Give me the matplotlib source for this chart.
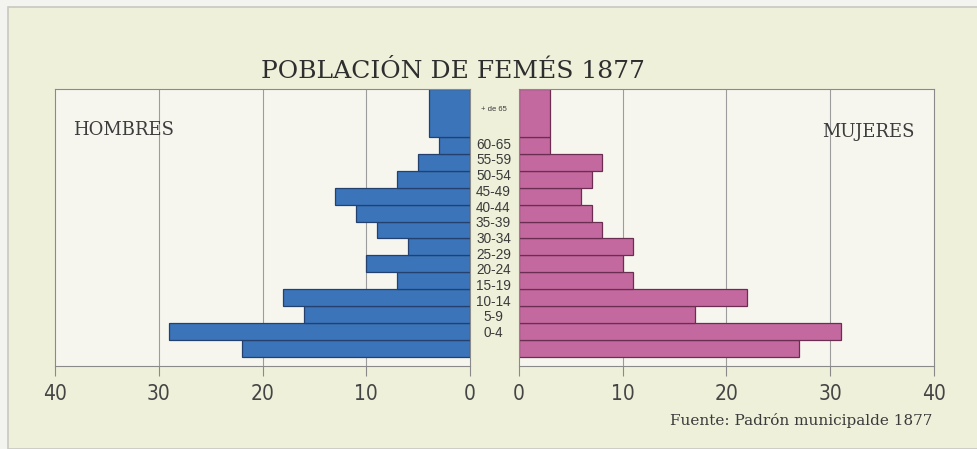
import numpy as np
import matplotlib.pyplot as plt
from matplotlib.patches import Rectangle

# Población de Femés 1877 - pirámide por grupos de edad
edades = ['0-4', '5-9', '10-14', '15-19', '20-24', '25-29', '30-34',
          '35-39', '40-44', '45-49', '50-54', '55-59', '60-65']
hombres = [22, 29, 16, 18, 7, 10, 6, 9, 11, 13, 7, 5, 3]
mujeres = [27, 31, 17, 22, 11, 10, 11, 8, 7, 6, 7, 8, 3]
mas65_label = '+ de 65'
mas65_h = 4
mas65_m = 3

ticks = [0, 10, 20, 30, 40]

fondo = '#eef0da'
interior = '#f6f6ef'
azul = '#3b74b9'
rosa = '#c4699f'

fig = plt.figure(figsize=(9.77, 4.49), dpi=100, facecolor='#f3f3ef')

# borde del escaneo
fig.patches.append(Rectangle((8 / 977, 0), 1, 1 - 7 / 449, transform=fig.transFigure,
                             facecolor=fondo, edgecolor='#c8c8c0', lw=1.2, zorder=-10))

axl = fig.add_axes([0.0563, 0.1849, 0.4248, 0.6169])
axr = fig.add_axes([0.5312, 0.1849, 0.4248, 0.6169])

y = np.arange(len(edades))
ytop = 15.35
ybot = -1.05

def base(ax):
    ax.set_facecolor(interior)
    ax.set_ylim(ybot, ytop)
    ax.set_xlim(0, 40)
    ax.set_xticks(ticks)
    ax.set_yticks([])
    for t in [10, 20, 30]:
        ax.axvline(t, color='#9c9c9c', lw=0.8, zorder=0)
    for s in ax.spines.values():
        s.set_color('#8a8a8a')
        s.set_linewidth(0.8)
    ax.tick_params(axis='x', direction='out', length=7, width=0.8,
                   color='#8a8a8a', pad=6, labelsize=15, labelcolor='#454545')
    for lab in ax.get_xticklabels():
        lab.set_family('DejaVu Sans')
        lab.set_stretch('condensed')

base(axl)
base(axr)
axl.invert_xaxis()

axl.barh(y, hombres, height=1, color=azul, edgecolor='#23406e', lw=0.9, zorder=2)
axl.barh(12.5, mas65_h, height=ytop - 12.5, align='edge', color=azul,
         edgecolor='#23406e', lw=0.9, zorder=2)
axr.barh(y, mujeres, height=1, color=rosa, edgecolor='#6b2d52', lw=0.9, zorder=2)
axr.barh(12.5, mas65_m, height=ytop - 12.5, align='edge', color=rosa,
         edgecolor='#6b2d52', lw=0.9, zorder=2)

# etiquetas de edad en la columna central (ligeramente desplazadas como en el original)
for i, e in enumerate(edades):
    axr.text(-2.45, 0.9 + i * 0.929, e, ha='center', va='center', fontsize=9.8,
             color='#3a3a3a', family='Liberation Sans', clip_on=False)
axr.text(-2.45, 14.15, mas65_label, ha='center', va='center', fontsize=5.5,
         color='#3a3a3a', family='Liberation Sans', clip_on=False)

axl.text(38.3, 12.9, 'HOMBRES', ha='left', va='center', fontsize=13,
         color='#3c3c3c', family='DejaVu Serif')
axr.text(38.15, 12.8, 'MUJERES', ha='right', va='center', fontsize=13,
         color='#3c3c3c', family='DejaVu Serif')

fig.text(453 / 977, 1 - 71 / 449, 'POBLACIÓN DE FEMÉS 1877', ha='center', va='center',
         fontsize=18, color='#2e2e2e', family='DejaVu Serif')
fig.text(932 / 977, 1 - 421 / 449, 'Fuente: Padrón municipalde 1877', ha='right',
         va='center', fontsize=11, color='#3a3a3a', family='DejaVu Serif')

fig.savefig('out.png', dpi=100, facecolor=fig.get_facecolor())
